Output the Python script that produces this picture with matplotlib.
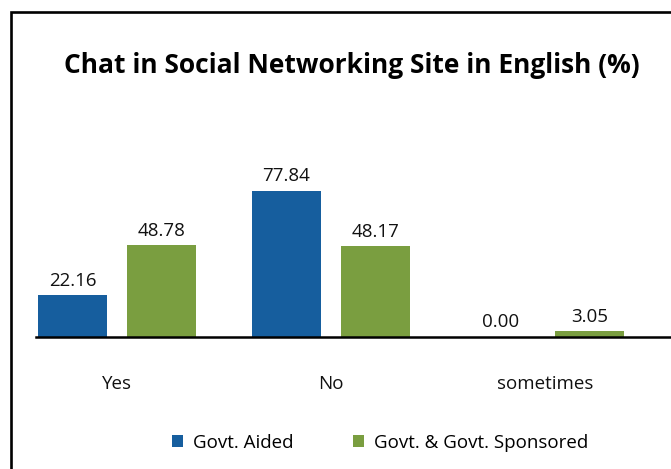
import matplotlib
matplotlib.use("Agg")
import matplotlib.pyplot as plt
from matplotlib.patches import Patch, Rectangle
import numpy as np

categories = ["Yes", "No", "sometimes"]
series_names = ["Govt. Aided", "Govt. & Govt. Sponsored"]
govt_aided = [22.16, 77.84, 0.00]
govt_sponsored = [48.78, 48.17, 3.05]
title = "Chat in Social Networking Site in English (%)"

blue = "#165E9E"
green = "#7A9E40"
font = "Open Sans"

W, H = 671, 469
fig = plt.figure(figsize=(W / 100, H / 100), dpi=100)

# plot area in pixel terms
left_px, right_px, base_px, top_px = 36, 671, 337, 149
ax = fig.add_axes([left_px / W, 1 - base_px / H,
                   (right_px - left_px) / W, (base_px - top_px) / H])

x = np.arange(len(categories))
off, width = 0.208, 0.322
b1 = ax.bar(x - off, govt_aided, width, color=blue, label=series_names[0])
b2 = ax.bar(x + off, govt_sponsored, width, color=green, label=series_names[1])

for bars, vals in ((b1, govt_aided), (b2, govt_sponsored)):
    for rect, v in zip(bars, vals):
        ax.annotate(f"{v:.2f}", (rect.get_x() + rect.get_width() / 2, v),
                    xytext=(0, 4), textcoords="offset points",
                    ha="center", va="bottom", fontsize=13.5,
                    family=font, color="#111111")

ax.set_xlim(-81 / 214, 554 / 214)
ax.set_ylim(0, 100)
ax.set_xticks(x)
ax.set_xticklabels(categories, fontsize=13.5, family=font, color="#111111")
ax.tick_params(axis="x", length=0, pad=27.5)
ax.set_yticks([])
for s in ("top", "right", "left"):
    ax.spines[s].set_visible(False)
ax.spines["bottom"].set_linewidth(1.8)
ax.spines["bottom"].set_color("black")

fig.text(352 / W, 1 - 65 / H, title, ha="center", va="center",
         fontsize=19, fontweight="bold", family=font, color="black")

handles = [Patch(facecolor=blue, label=series_names[0]),
           Patch(facecolor=green, label=series_names[1])]
fig.legend(handles=handles, loc="center", bbox_to_anchor=(380 / W, 1 - 443 / H),
           ncol=2, frameon=False, handlelength=0.6, handleheight=0.6,
           handletextpad=0.5, columnspacing=3.2,
           prop={"family": font, "size": 13.5})

# outer frame (open towards the right and bottom edges)
fig.patches.append(Rectangle((11 / W, -0.1), 1.2, 1.1 - 12 / H,
                             transform=fig.transFigure, fill=False,
                             edgecolor="black", linewidth=1.9))

fig.savefig("out.png", dpi=100)
